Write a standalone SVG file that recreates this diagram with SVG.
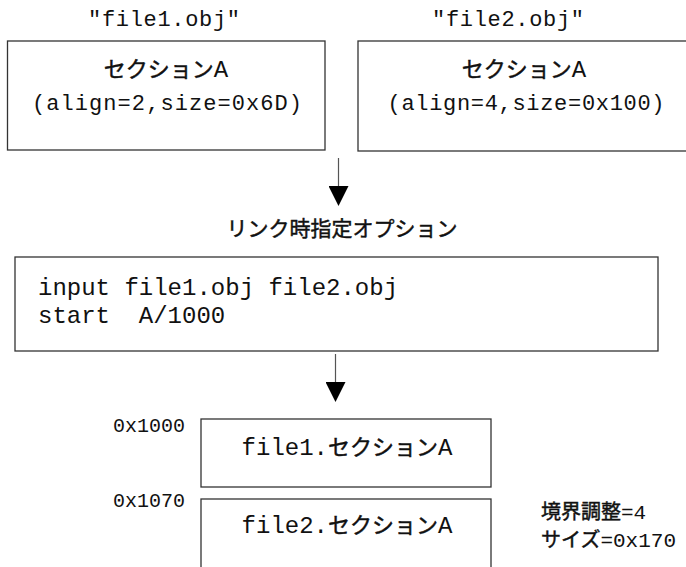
<svg xmlns="http://www.w3.org/2000/svg" width="686" height="567" viewBox="0 0 686 567">
<style>
.box{fill:#fff;stroke:#333;stroke-width:1.3}
.mono{font-family:"Liberation Mono","DejaVu Sans Mono",monospace;fill:#111}
.jp{font-family:"Noto Sans CJK JP","Noto Sans",sans-serif;font-weight:normal;fill:#111;stroke:#111;stroke-width:0.45}
.conn{stroke:#555;stroke-width:1.2;fill:none}
</style>
<defs>
<marker id="ah" markerUnits="userSpaceOnUse" markerWidth="20" markerHeight="20" refX="0" refY="10" orient="auto" viewBox="0 0 20 20">
<path d="M0,0 L20,10 L0,20 z" fill="#000"/>
</marker>
</defs>
<rect width="686" height="567" fill="#fff"/>
<g id="file1">
<text class="mono" x="164" y="26" font-size="22" text-anchor="middle" textLength="152" lengthAdjust="spacing">"file1.obj"</text>
<rect class="box" x="7.5" y="41" width="317.5" height="109"/>
<text x="166" y="77" text-anchor="middle"><tspan class="jp" font-size="22">セクション</tspan><tspan class="mono" font-size="24">A</tspan></text>
<text class="mono" x="167" y="110" font-size="22" text-anchor="middle" textLength="270" lengthAdjust="spacing">(align=2,size=0x6D)</text>
</g>
<g id="file2">
<text class="mono" x="508" y="26" font-size="22" text-anchor="middle" textLength="152" lengthAdjust="spacing">"file2.obj"</text>
<rect class="box" x="358" y="41" width="340" height="110"/>
<text x="524" y="77" text-anchor="middle"><tspan class="jp" font-size="22">セクション</tspan><tspan class="mono" font-size="24">A</tspan></text>
<text class="mono" x="526" y="110" font-size="22" text-anchor="middle" textLength="277" lengthAdjust="spacing">(align=4,size=0x100)</text>
</g>
<g id="linkopt">
<text class="jp" x="342" y="236" font-size="21" text-anchor="middle">リンク時指定オプション</text>
<rect class="box" x="15" y="257" width="643" height="94"/>
<text class="mono" x="38" y="295" font-size="24">input file1.obj file2.obj</text>
<text class="mono" x="38" y="323" font-size="24" xml:space="preserve">start  A/1000</text>
</g>
<g id="sec1">
<text class="mono" x="113" y="432" font-size="20">0x1000</text>
<rect class="box" x="201" y="419" width="290" height="68"/>
<text x="347" y="455" text-anchor="middle"><tspan class="mono" font-size="24">file1.</tspan><tspan class="jp" font-size="22">セクション</tspan><tspan class="mono" font-size="24">A</tspan></text>
</g>
<g id="sec2">
<text class="mono" x="113" y="507" font-size="20">0x1070</text>
<rect class="box" x="201" y="499" width="290" height="80"/>
<text x="347" y="533" text-anchor="middle"><tspan class="mono" font-size="24">file2.</tspan><tspan class="jp" font-size="22">セクション</tspan><tspan class="mono" font-size="24">A</tspan></text>
</g>
<g id="summary">
<text x="541" y="519"><tspan class="jp" font-size="20">境界調整</tspan><tspan class="mono" font-size="21">=4</tspan></text>
<text x="541" y="547"><tspan class="jp" font-size="20">サイズ</tspan><tspan class="mono" font-size="21">=0x170</tspan></text>
</g>
<g id="connectors">
<line class="conn" x1="338.5" y1="158" x2="338.5" y2="186" marker-end="url(#ah)"/>
<line class="conn" x1="335.5" y1="354" x2="335.5" y2="382" marker-end="url(#ah)"/>
</g>
</svg>
